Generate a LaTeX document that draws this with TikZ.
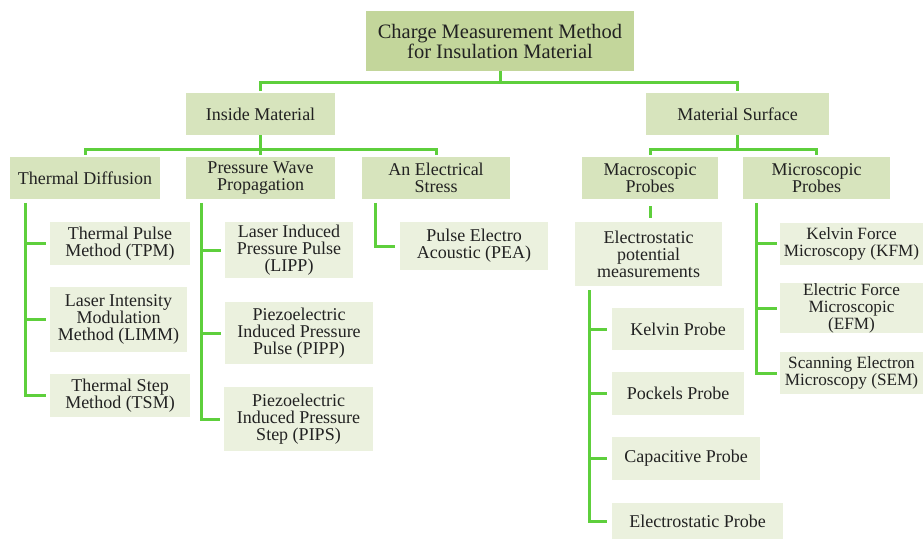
\documentclass[tikz,border=0pt]{standalone}
\usepackage{fontspec}
\setmainfont{Liberation Serif}
\definecolor{topgreen}{HTML}{C3D69B}
\definecolor{midgreen}{HTML}{D7E4BD}
\definecolor{leafgreen}{HTML}{EBF1DE}
\definecolor{linegreen}{HTML}{5ECF3C}
\definecolor{textgray}{HTML}{222222}
\begin{document}
\begin{tikzpicture}[x=1pt, y=-1pt,
	box/.style={inner sep=0pt, align=center, text=textgray, font=\fontsize{18}{17}\selectfont},
	topbox/.style={box, fill=topgreen, font=\fontsize{20.5}{20}\selectfont},
	midbox/.style={box, fill=midgreen},
	leafbox/.style={box, fill=leafgreen},
	edgebox/.style={leafbox, font=\fontsize{17.2}{17}\selectfont},
	conn/.style={draw=linegreen, line width=3pt, shorten >=2pt}]
				\useasboundingbox (0,0) rectangle (923,540);
				\clip (0,0) rectangle (923,540);
				\node[topbox, minimum width=268, minimum height=60] (CM) at (500,41) {Charge Measurement Method\\for Insulation Material};
				\node[midbox, minimum width=149, minimum height=42] (IM) at (260.5,114) {Inside Material};
				\node[midbox, minimum width=183, minimum height=42] (MS) at (737.5,114) {Material Surface};
				\node[midbox, minimum width=150, minimum height=42] (TD) at (85,178) {Thermal Diffusion};
				\node[midbox, minimum width=149, minimum height=42] (PWP) at (260.5,178) {Pressure Wave\\Propagation};
				\node[midbox, minimum width=148, minimum height=42] (AES) at (436,178) {An Electrical\\Stress};
				\node[midbox, minimum width=136, minimum height=42] (MaP) at (650,178) {Macroscopic\\Probes};
				\node[midbox, minimum width=147, minimum height=42] (MiP) at (816.5,178) {Microscopic\\Probes};
				\node[leafbox, minimum width=140, minimum height=43] (TPM) at (120,243.5) {Thermal Pulse\\Method (TPM)};
				\node[leafbox, minimum width=137, minimum height=65] (LIMM) at (118.5,319.5) {Laser Intensity\\Modulation\\Method (LIMM)};
				\node[leafbox, minimum width=140, minimum height=43] (TSM) at (120,395.5) {Thermal Step\\Method (TSM)};
				\node[leafbox, minimum width=128, minimum height=56] (LIPP) at (289,250) {Laser Induced\\Pressure Pulse\\(LIPP)};
				\node[leafbox, minimum width=148, minimum height=62] (PIPP) at (299,333) {Piezoelectric\\Induced Pressure\\Pulse (PIPP)};
				\node[leafbox, minimum width=149, minimum height=64] (PIPS) at (298.5,419) {Piezoelectric\\Induced Pressure\\Step (PIPS)};
				\node[leafbox, minimum width=148, minimum height=48] (PEA) at (474,246) {Pulse Electro\\Acoustic (PEA)};
				\node[leafbox, minimum width=147, minimum height=64] (EPM) at (648.5,254) {Electrostatic\\potential\\measurements};
				\node[leafbox, minimum width=132, minimum height=42] (KP) at (678,329) {Kelvin Probe};
				\node[leafbox, minimum width=132, minimum height=43] (PP) at (678,393.5) {Pockels Probe};
				\node[leafbox, minimum width=148, minimum height=43] (CP) at (686,458.5) {Capacitive Probe};
				\node[leafbox, minimum width=171, minimum height=36] (EP) at (697.5,521) {Electrostatic Probe};
				\node[edgebox, minimum width=143, minimum height=42] (KFM) at (851.5,243.5) {Kelvin Force\\Microscopy (KFM)};
				\node[edgebox, minimum width=143, minimum height=42] (EFM) at (851.5,308) {Electric Force\\Microscopic\\(EFM)};
				\node[edgebox, minimum width=143, minimum height=42] (SEM) at (851.5,373) {Scanning Electron\\Microscopy (SEM)};
				\draw[conn] (CM.south) -- ++(0,11) -| (IM.north);
				\draw[conn] (CM.south) -- ++(0,11) -| (MS.north);
				\draw[conn] (IM.south) -- ++(0,14) -| (TD.north);
				\draw[conn] (IM.south) -- (PWP.north);
				\draw[conn] (IM.south) -- ++(0,14) -| (AES.north);
				\draw[conn] (MS.south) -- ++(0,14) -| (MaP.north);
				\draw[conn] (MS.south) -- ++(0,14) -| (MiP.north);
				\draw[conn, shorten <=7pt, shorten >=4pt] (MaP.south) -- (MaP.south |- EPM.north);
				\coordinate (TDl) at (25,203);
				\coordinate (PWPl) at (201,203);
				\coordinate (AESl) at (375,203);
				\coordinate (EPMl) at (589,290);
				\coordinate (MiPl) at (756,203);
				\draw[conn, shorten >=4pt] (TDl) |- (TSM.west);
				\draw[conn, shorten >=4pt] (TDl |- TPM.west) -- (TPM.west);
				\draw[conn, shorten >=4pt] (TDl |- LIMM.west) -- (LIMM.west);
				\draw[conn, shorten >=4pt] (PWPl) |- (PIPS.west);
				\draw[conn, shorten >=4pt] (PWPl |- LIPP.west) -- (LIPP.west);
				\draw[conn, shorten >=4pt] (PWPl |- PIPP.west) -- (PIPP.west);
				\draw[conn, shorten >=5pt] (AESl) |- (PEA.west);
				\draw[conn, shorten >=5pt] (EPMl) |- (EP.west);
				\draw[conn, shorten >=5pt] (EPMl |- KP.west) -- (KP.west);
				\draw[conn, shorten >=5pt] (EPMl |- PP.west) -- (PP.west);
				\draw[conn, shorten >=5pt] (EPMl |- CP.west) -- (CP.west);
				\draw[conn, shorten >=3pt] (MiPl) |- (SEM.west);
				\draw[conn, shorten >=3pt] (MiPl |- KFM.west) -- (KFM.west);
				\draw[conn, shorten >=3pt] (MiPl |- EFM.west) -- (EFM.west);
			\end{tikzpicture}
\end{document}
